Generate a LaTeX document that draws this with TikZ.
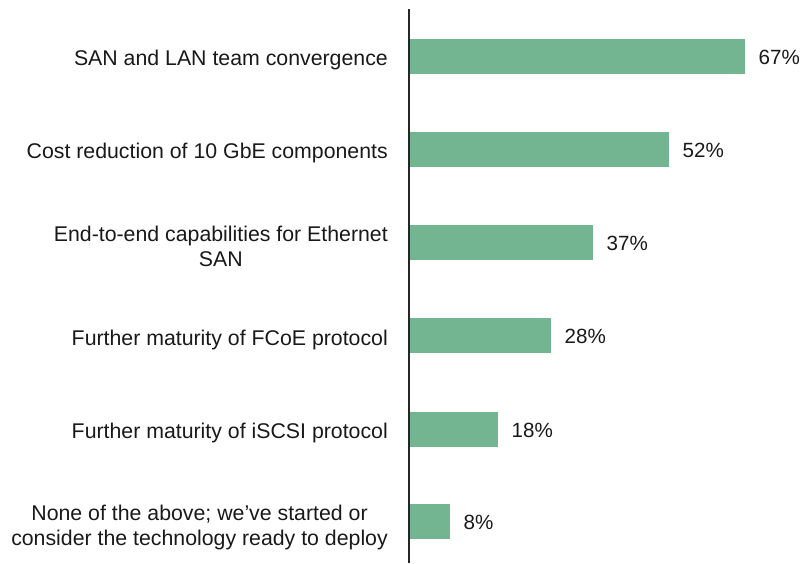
\documentclass[tikz,border=0pt]{standalone}
\usepackage{fontspec}
\setmainfont{Liberation Sans}
\usetikzlibrary{positioning}
\definecolor{bargreen}{RGB}{116,181,145}
\definecolor{axisgray}{RGB}{38,38,38}

\begin{document}
\begin{tikzpicture}
[x=1pt,y=-1pt,
bar/.style={fill=bargreen,draw=none,anchor=west,inner sep=0pt,minimum height=35pt},
cat/.style={anchor=east,align=center,inner sep=0pt,yshift=-4pt,text=black!90,font=\fontsize{21.3}{25}\selectfont},
val/.style={anchor=west,inner sep=0pt,yshift=-1pt,text=black!90,font=\fontsize{20.6}{23}\selectfont}] 
\useasboundingbox (0,0) rectangle (802,563);
\node[bar,minimum width=336pt](b1) at (409,56){}; 
\node[bar,minimum width=260pt](b2) at (409,149){}; 
\node[bar,minimum width=184pt](b3) at (409,242){}; 
\node[bar,minimum width=142pt](b4) at (409,335.5){}; 
\node[bar,minimum width=89pt](b5) at (409,429){}; 
\node[bar,minimum width=41pt](b6) at (409,521){}; 
\node[val,right=13pt of b1](v1){67\%}; 
\node[val,right=13pt of b2](v2){52\%}; 
\node[val,right=13pt of b3](v3){37\%}; 
\node[val,right=13pt of b4](v4){28\%}; 
\node[val,right=13pt of b5](v5){18\%}; 
\node[val,right=13pt of b6](v6){8\%}; 
\node[cat,left=21pt of b1.west](c1){SAN and LAN team convergence}; 
\node[cat,left=21pt of b2.west](c2){Cost reduction of 10 GbE components}; 
\node[cat,left=21pt of b3.west](c3){End-to-end capabilities for Ethernet\\SAN}; 
\node[cat,left=21pt of b4.west](c4){Further maturity of FCoE protocol}; 
\node[cat,left=21pt of b5.west](c5){Further maturity of iSCSI protocol}; 
\node[cat,left=21pt of b6.west,yshift=-2pt](c6){None of the above; we’ve started or\\consider the technology ready to deploy}; 
\coordinate (top) at (408.5,9); 
\coordinate (bot) at (408.5,563); 
\draw[axisgray,line width=2pt] (top) -- (bot);
\end{tikzpicture}
\end{document}
